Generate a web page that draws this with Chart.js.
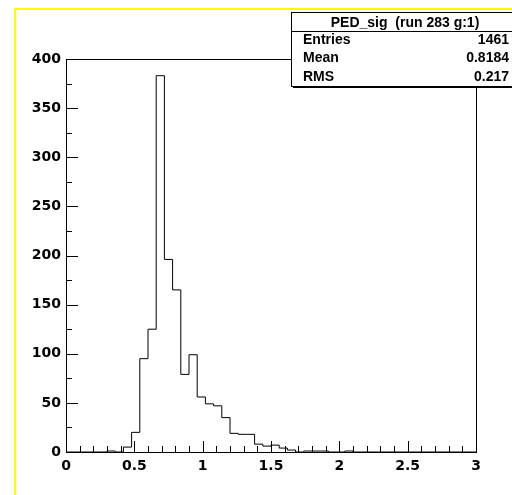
<!DOCTYPE html>
<html>
<head>
<meta charset="utf-8">
<script src="https://cdn.jsdelivr.net/npm/chart.js@4.4.1/dist/chart.umd.min.js"></script>
<style>
  body { margin: 0; background: #fff; }
  #wrap { position: relative; width: 512px; height: 495px; }
</style>
</head>
<body>
<div id="wrap"><canvas id="histo" width="512" height="495"></canvas></div>
<script>
// histogram PED_sig, 50 bins from 0 to 3
const xMin = 0;
const xMax = 3;
const binCounts = [
  0, 0, 0, 0, 0, 1, 0, 5, 20, 95,
  125, 383, 196, 165, 79, 99, 56, 49, 47, 35,
  19, 18, 18, 8, 6, 7, 4, 2, 0, 1,
  1, 1, 0, 0, 1, 0, 0, 0, 0, 0,
  0, 0, 0, 0, 0, 0, 0, 0, 0, 0
];
const xTickLabels = ["0", "0.5", "1", "1.5", "2", "2.5", "3"];
const yTickLabels = ["0", "50", "100", "150", "200", "250", "300", "350", "400"];

// stats box
const statsTitle = "PED_sig  (run 283 g:1)";
const statsNames = ["Entries", "Mean", "RMS"];
const statsValues = ["1461", "0.8184", "0.217"];

// each point sits on the upper edge of its bin, 'after' steps draw the bin to its left
const binWidth = (xMax - xMin) / binCounts.length;
const points = [{ x: xMin, y: 0 }];
binCounts.forEach((c, i) => points.push({ x: xMin + (i + 1) * binWidth, y: c }));

const axisFont = { family: "DejaVu Sans", size: 14, weight: "bold" };

// ROOT style pad: yellow border, frame, inward ticks, stats box
const rootPad = {
  id: "rootPad",
  beforeDraw(chart) {
    const c = chart.ctx;
    c.save();
    c.fillStyle = "#ffffff";
    c.fillRect(0, 0, chart.width, chart.height);
    c.strokeStyle = "#ffff00";
    c.lineWidth = 2;
    c.beginPath();
    c.moveTo(15, chart.height);
    c.lineTo(15, 9);
    c.lineTo(chart.width, 9);
    c.stroke();
    c.restore();
  },
  afterDraw(chart) {
    const c = chart.ctx;
    const a = chart.chartArea;
    const xs = chart.scales.x;
    const ys = chart.scales.y;
    c.save();
    c.strokeStyle = "#000";
    c.lineWidth = 1;
    c.strokeRect(Math.round(a.left) + 0.5, Math.round(a.top) + 0.5,
      Math.round(a.right - a.left), Math.round(a.bottom - a.top));

    c.beginPath();
    for (let i = 0; i <= 30; i++) {
      const px = Math.round(xs.getPixelForValue(i / 10)) + 0.5;
      const len = i % 5 === 0 ? 11 : 6;
      c.moveTo(px, a.bottom);
      c.lineTo(px, a.bottom - len);
    }
    for (let i = 0; i <= 16; i++) {
      const py = Math.round(ys.getPixelForValue(i * 25)) + 0.5;
      const len = i % 2 === 0 ? 12 : 6;
      c.moveTo(a.left, py);
      c.lineTo(a.left + len, py);
    }
    c.stroke();

    // stats box
    const bx = 291, by = 12, bw = 229, bh = 74;
    c.fillStyle = "#000";
    c.fillRect(bx + 2, by + bh, bw, 2);
    c.fillStyle = "#fff";
    c.fillRect(bx, by, bw, bh);
    c.strokeRect(bx + 0.5, by + 0.5, bw, bh);
    c.beginPath();
    c.moveTo(bx, 31.5);
    c.lineTo(bx + bw, 31.5);
    c.stroke();

    c.fillStyle = "#000";
    c.font = "bold 14px 'Liberation Sans'";
    c.textBaseline = "middle";
    c.textAlign = "center";
    c.fillText(statsTitle, 405, 23);
    const rowY = [40, 58, 77];
    statsNames.forEach((n, i) => {
      c.textAlign = "left";
      c.fillText(n, 303, rowY[i]);
      c.textAlign = "right";
      c.fillText(statsValues[i], 509, rowY[i]);
    });
    c.restore();
  }
};

const ctx = document.getElementById("histo").getContext("2d");
new Chart(ctx, {
  type: "line",
  data: {
    datasets: [{
      label: "PED_sig",
      data: points,
      stepped: "after",
      borderColor: "#000",
      borderWidth: 1,
      pointRadius: 0,
      fill: false
    }]
  },
  options: {
    responsive: false,
    animation: false,
    layout: { padding: { left: 0, right: 36, top: 59, bottom: 0 } },
    plugins: { legend: { display: false }, tooltip: { enabled: false } },
    scales: {
      x: {
        type: "linear",
        min: xMin,
        max: xMax,
        grid: { display: false, drawTicks: false },
        border: { display: false },
        afterFit: (s) => { s.height = 43; },
        afterBuildTicks: (s) => {
          s.ticks = xTickLabels.map((t) => ({ value: parseFloat(t) }));
        },
        ticks: {
          padding: 6,
          color: "#000",
          font: axisFont,
          maxRotation: 0,
          autoSkip: false,
          callback: (v, i) => xTickLabels[i]
        }
      },
      y: {
        min: 0,
        max: 400,
        grid: { display: false, drawTicks: false },
        border: { display: false },
        afterFit: (s) => { s.width = 66; },
        afterBuildTicks: (s) => {
          s.ticks = yTickLabels.map((t) => ({ value: parseFloat(t) }));
        },
        ticks: {
          padding: 5,
          color: "#000",
          font: axisFont,
          autoSkip: false,
          callback: (v, i) => yTickLabels[i]
        }
      }
    }
  },
  plugins: [rootPad]
});
</script>
</body>
</html>
